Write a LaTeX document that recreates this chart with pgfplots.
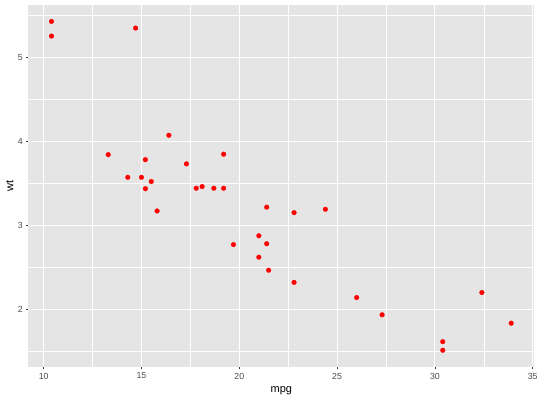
\documentclass[border=0pt]{standalone}
\usepackage{pgfplots}
\pgfplotsset{compat=1.18}
\usepackage{fontspec}
\setmainfont{Liberation Sans}
\definecolor{panelbg}{HTML}{E5E5E5}
\definecolor{ticklab}{HTML}{4D4D4D}
\definecolor{tickcol}{HTML}{333333}
\begin{document}
\begin{tikzpicture}
\path[use as bounding box, fill=white] (0,0) rectangle (540bp,400bp);
\begin{axis}[
  at={(28.5bp,33.3bp)}, anchor=south west,
  scale only axis, width=505.7bp, height=361.7bp,
  xmin=9.225, xmax=35.075, ymin=1.31745, ymax=5.61955,
  xtick={10,15,20,25,30,35}, ytick={2,3,4,5},
  minor xtick={12.5,17.5,22.5,27.5,32.5},
  minor ytick={1.5,2.5,3.5,4.5,5.5},
  grid=both,
  major grid style={white, line width=1.07bp},
  minor grid style={white!96!panelbg, line width=0.53bp},
  axis background/.style={fill=panelbg},
  axis line style={draw=none},
  tick align=outside, xtick pos=bottom, ytick pos=left,
  major tick length=2.75bp, minor tick length=0pt,
  tick style={tickcol, line width=0.53bp},
  /pgf/number format/assume math mode=true,
  ticklabel style={font=\fontsize{8.8bp}{10bp}\selectfont, text=ticklab, inner sep=0pt},
  xticklabel style={anchor=north, yshift=-3.25bp},
  yticklabel style={anchor=east, xshift=-2.75bp},
  xlabel={mpg}, ylabel={wt},
  label style={font=\fontsize{11bp}{13bp}\selectfont, inner sep=0pt},
  xlabel style={at={(axis description cs:0.5,0)}, anchor=base, yshift=-25.6bp},
  ylabel style={at={(axis description cs:0,0.5)}, anchor=base, yshift=15.2bp},
  clip=false,
]
\addplot[only marks, mark=*, mark size=2.4bp, mark options={fill=red, draw=red, line width=0.2bp}] coordinates {
(21.0,2.620) (21.0,2.875) (22.8,2.320) (21.4,3.215) (18.7,3.440)
(18.1,3.460) (14.3,3.570) (24.4,3.190) (22.8,3.150) (19.2,3.440)
(17.8,3.440) (16.4,4.070) (17.3,3.730) (15.2,3.780) (10.4,5.250)
(10.4,5.424) (14.7,5.345) (32.4,2.200) (30.4,1.615) (33.9,1.835)
(21.5,2.465) (15.5,3.520) (15.2,3.435) (13.3,3.840) (19.2,3.845)
(27.3,1.935) (26.0,2.140) (30.4,1.513) (15.8,3.170) (19.7,2.770)
(15.0,3.570) (21.4,2.780)
};
\end{axis}
\end{tikzpicture}
\end{document}
